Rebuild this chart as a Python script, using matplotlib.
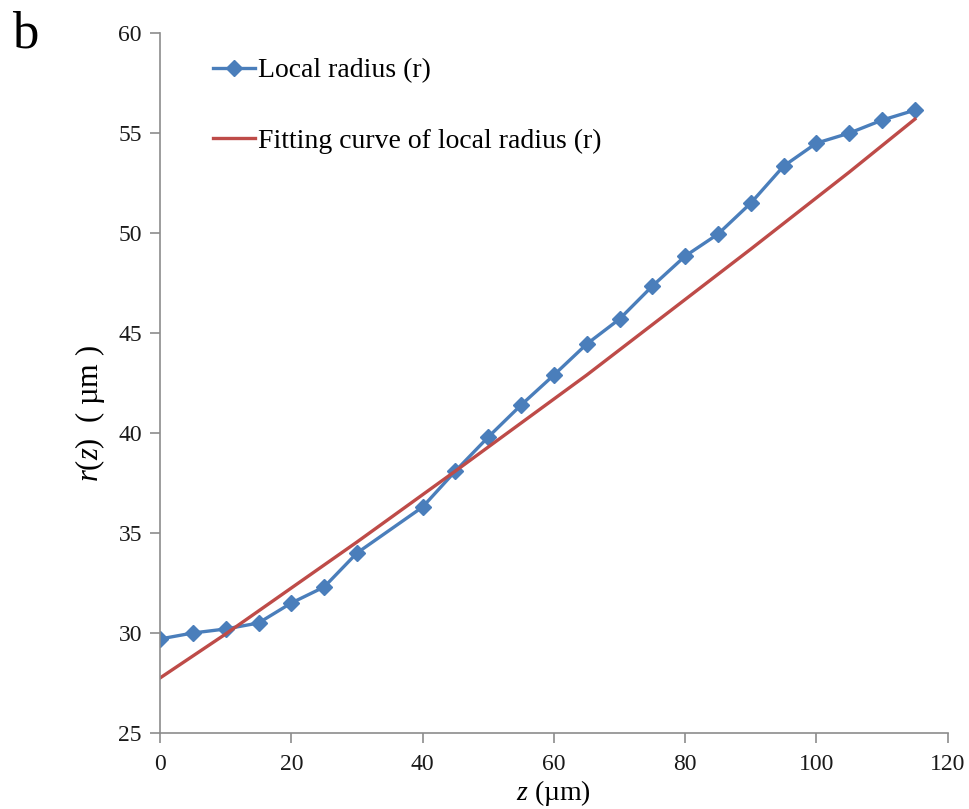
import numpy as np
from matplotlib import pyplot as plt

# local radius data
z = [0, 5, 10, 15, 20, 25, 30, 40, 45, 50, 55, 60, 65, 70, 75, 80, 85, 90, 95, 100, 105, 110, 115]
r = [29.7, 30.0, 30.2, 30.5, 31.5, 32.3, 34.0, 36.3, 38.1, 39.8, 41.4, 42.9, 44.45, 45.7,
     47.35, 48.85, 49.95, 51.5, 53.35, 54.5, 55.0, 55.65, 56.15]

z_fit = [0, 10, 20, 30, 45, 65, 90, 105, 115]
r_fit = [27.75, 29.95, 32.25, 34.55, 38.1, 42.9, 49.2, 53.05, 55.7]

xticks = [0, 20, 40, 60, 80, 100, 120]
yticks = [25, 30, 35, 40, 45, 50, 55, 60]

plt.rcParams['font.family'] = ['Liberation Serif', 'DejaVu Serif']
plt.rcParams['mathtext.fontset'] = 'custom'
plt.rcParams['mathtext.rm'] = 'Liberation Serif'
plt.rcParams['mathtext.it'] = 'Liberation Serif:italic'

blue = '#4A7EBB'
red = '#BE4B48'
gray = '#8C8C8C'

fig = plt.figure(figsize=(9.7, 8.09), dpi=100)
ax = fig.add_axes([0.165, 0.094, 0.812, 0.865])

ax.plot(z, r, color=blue, lw=2.4, marker='D', ms=8, label='Local radius (r)')
ax.plot(z_fit, r_fit, color=red, lw=2.4, label='Fitting curve of local radius (r)')

ax.set_xlim(0, 120)
ax.set_ylim(25, 60)
ax.set_xticks(xticks)
ax.set_yticks(yticks)

for s in ['top', 'right']:
    ax.spines[s].set_visible(False)
for s in ['left', 'bottom']:
    ax.spines[s].set_color(gray)
    ax.spines[s].set_linewidth(1.2)
ax.tick_params(direction='out', length=7, width=1.2, color=gray, labelsize=17, labelcolor='#1a1a1a')
ax.tick_params(axis='y', pad=6)
ax.tick_params(axis='x', pad=8)

ax.set_xlabel(r'$\mathit{z}$ (µm)', fontsize=20, labelpad=2)
ax.set_ylabel(r'$\mathit{r}$($\mathit{z}$)  ( µm )', fontsize=22)
ax.yaxis.set_label_coords(-0.067, 0.456)

leg = ax.legend(loc='upper left', bbox_to_anchor=(0.036, 1.0), frameon=False, fontsize=20,
                handlelength=1.5, handletextpad=0.1, labelspacing=1.6)

fig.text(0.012, 0.941, 'b', fontsize=38, va='baseline')

plt.savefig('out.png', dpi=100)
